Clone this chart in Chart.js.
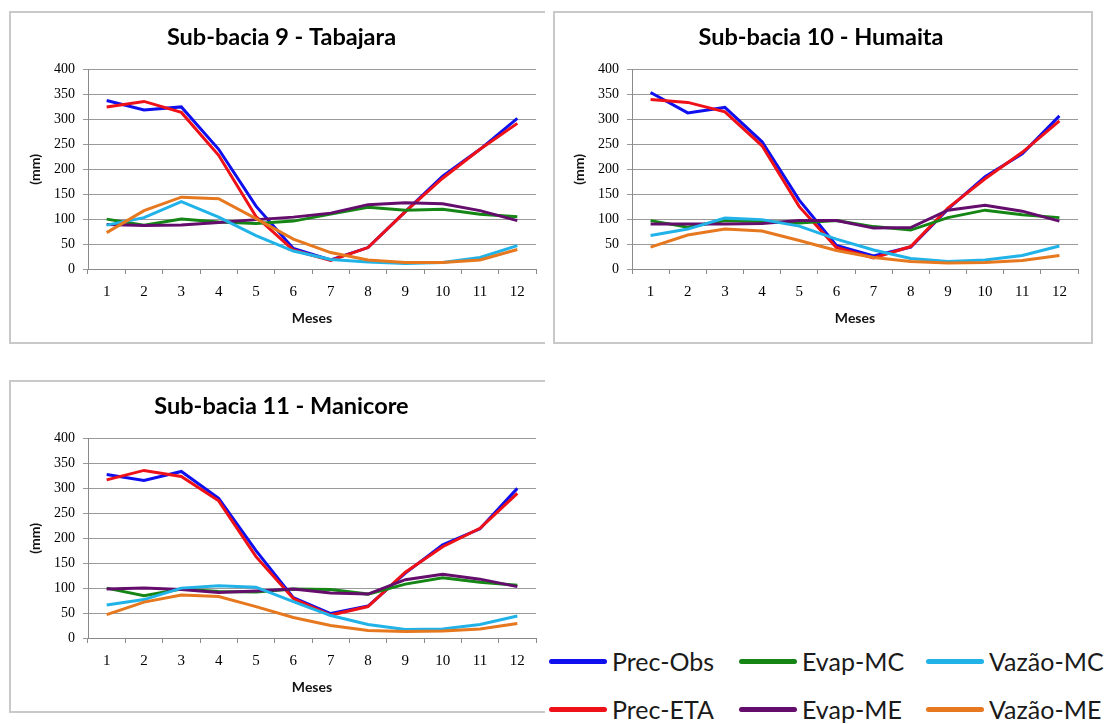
<!DOCTYPE html>
<html>
<head>
<meta charset="utf-8">
<title>Sub-bacias - precipitação, evapotranspiração e vazão</title>
<script src="https://cdn.jsdelivr.net/npm/chart.js@4.4.0/dist/chart.umd.min.js"></script>
<style>
  html, body { margin: 0; padding: 0; background: #fff; }
  body { width: 1108px; height: 724px; position: relative; overflow: hidden; font-family: Lato, "Open Sans", sans-serif; }
  .frame { position: absolute; box-sizing: border-box; border: 2px solid #c9c9c9; }
  .frame.cut { border-right: none; }
  canvas { position: absolute; }
  .leg { position: absolute; height: 30px; display: flex; align-items: center; white-space: nowrap;
         font-family: Lato, sans-serif; font-size: 25px; color: #1a1a1a; }
  .leg i { display: inline-block; width: 58px; height: 5px; border-radius: 3px; margin-right: 5px; }
</style>
</head>
<body>
<div class="frame cut" style="left:9px;top:11px;width:536px;height:333px"></div>
<div class="frame" style="left:553px;top:11px;width:540px;height:333px"></div>
<div class="frame cut" style="left:9px;top:380px;width:536px;height:333px"></div>
<canvas id="c9" width="534" height="333" style="left:9px;top:11px"></canvas>
<canvas id="c10" width="540" height="333" style="left:553px;top:11px"></canvas>
<canvas id="c11" width="534" height="333" style="left:9px;top:380px"></canvas>
<div id="legend"></div>

<script>
// Months on the horizontal axis
const months = ['1', '2', '3', '4', '5', '6', '7', '8', '9', '10', '11', '12'];
const yTicks = [0, 50, 100, 150, 200, 250, 300, 350, 400];

// Series names, in drawing order
const seriesNames = ['Prec-Obs', 'Prec-ETA', 'Evap-MC', 'Evap-ME', 'Vazão-MC', 'Vazão-ME'];

// Sub-bacia 9 - Tabajara (mm)
const precObs9 = [338, 319, 325, 240, 126, 41, 18, 43, 115, 186, 240, 302];
const precEta9 = [325, 336, 314, 228, 105, 38, 17, 43, 115, 182, 240, 292];
const evapMc9  = [100, 88, 100, 94, 91, 96, 110, 124, 118, 120, 110, 105];
const evapMe9  = [89, 87, 88, 93, 99, 104, 112, 129, 133, 131, 117, 97];
const vazaoMc9 = [88, 103, 135, 104, 67, 36, 19, 14, 11, 13, 23, 47];
const vazaoMe9 = [73, 117, 144, 141, 101, 60, 33, 18, 13, 13, 18, 39];

// Sub-bacia 10 - Humaita (mm)
const precObs10 = [354, 313, 324, 255, 138, 47, 26, 44, 120, 185, 231, 307];
const precEta10 = [340, 334, 315, 247, 125, 43, 22, 45, 122, 181, 234, 297];
const evapMc10  = [97, 84, 97, 95, 92, 97, 85, 78, 103, 118, 109, 103];
const evapMe10  = [90, 90, 90, 91, 97, 97, 82, 83, 118, 128, 116, 96];
const vazaoMc10 = [67, 80, 102, 99, 86, 60, 38, 21, 15, 18, 27, 46];
const vazaoMe10 = [44, 68, 80, 76, 57, 37, 23, 15, 12, 13, 17, 27];

// Sub-bacia 11 - Manicore (mm)
const precObs11 = [328, 316, 334, 280, 175, 81, 49, 64, 130, 187, 219, 300];
const precEta11 = [317, 336, 324, 275, 163, 79, 46, 63, 132, 183, 220, 290];
const evapMc11  = [100, 85, 98, 93, 92, 98, 97, 88, 108, 121, 112, 106];
const evapMe11  = [98, 100, 97, 91, 94, 98, 90, 88, 117, 128, 118, 103];
const vazaoMc11 = [66, 77, 100, 105, 102, 73, 45, 27, 17, 18, 27, 44];
const vazaoMe11 = [47, 72, 86, 83, 63, 41, 25, 15, 13, 14, 18, 29];

// Line colours per series
const seriesColors = ['#1010ee', '#ee1118', '#158615', '#640d6c', '#21b3e8', '#e6781f'];

// leftPad moves the centred title; the y-axis width keeps the plot edge fixed
function buildChart(id, title, series, leftPad, rightPad) {
  const datasets = series.map((values, i) => ({
    label: seriesNames[i],
    data: values,
    borderColor: seriesColors[i],
    backgroundColor: seriesColors[i],
    borderWidth: 3,
    pointRadius: 0,
    tension: 0,
    fill: false,
    order: series.length - i
  }));
  const axisFont = { family: 'Lato', size: 14, weight: 'bold', lineHeight: 1.2 };
  return new Chart(document.getElementById(id), {
    type: 'line',
    data: { labels: months, datasets },
    options: {
      responsive: false,
      animation: false,
      events: [],
      layout: { padding: { left: leftPad, right: rightPad, top: 0, bottom: 0 } },
      plugins: {
        legend: { display: false },
        tooltip: { enabled: false },
        title: {
          display: true,
          text: title,
          color: '#000',
          font: { family: 'Lato', size: 23.5, weight: 'bold', lineHeight: 1.2 },
          padding: { top: 11.9, bottom: 18.4 }
        }
      },
      scales: {
        x: {
          type: 'category',
          offset: true,
          grid: { display: true, offset: true, drawOnChartArea: false, drawTicks: true, tickLength: 5, color: '#8a8a8a', lineWidth: 1 },
          border: { display: true, color: '#8a8a8a', width: 1 },
          ticks: { color: '#000', font: { family: '"Liberation Serif"', size: 15 }, padding: 9, maxRotation: 0, autoSkip: false },
          title: { display: true, text: 'Meses', color: '#111', font: axisFont, padding: { top: 0, bottom: 17.6 } },
          afterFit(scale) { scale.height = 75; }
        },
        y: {
          min: 0,
          max: 400,
          afterBuildTicks(scale) { scale.ticks = yTicks.map(v => ({ value: v })); },
          grid: { color: '#9a9a9a', lineWidth: 1, tickLength: 5, drawTicks: true },
          border: { display: true, color: '#8a8a8a', width: 1 },
          ticks: { color: '#000', font: { family: '"Liberation Serif"', size: 14 }, padding: 8 },
          title: { display: true, text: '(mm)', color: '#111', font: axisFont, padding: { top: Math.max(0, 17.6 - leftPad), bottom: 0 } },
          afterFit(scale) { scale.width = 79 - leftPad; }
        }
      }
    }
  });
}

buildChart('c9', 'Sub-bacia 9 - Tabajara', [precObs9, precEta9, evapMc9, evapMe9, vazaoMc9, vazaoMe9], 18, 7);
buildChart('c10', 'Sub-bacia 10 - Humaita', [precObs10, precEta10, evapMc10, evapMe10, vazaoMc10, vazaoMe10], 11, 15);
buildChart('c11', 'Sub-bacia 11 - Manicore', [precObs11, precEta11, evapMc11, evapMe11, vazaoMc11, vazaoMe11], 18, 7);

// Shared legend: two rows, three columns
const legendCols = [549, 739, 926];
const legendRows = [661, 709];
const legend = document.getElementById('legend');
seriesNames.forEach((name, i) => {
  const item = document.createElement('div');
  item.className = 'leg';
  item.style.left = legendCols[Math.floor(i / 2)] + 'px';
  item.style.top = (legendRows[i % 2] - 15) + 'px';
  const swatch = document.createElement('i');
  swatch.style.background = seriesColors[i];
  item.appendChild(swatch);
  item.appendChild(document.createTextNode(name));
  legend.appendChild(item);
});
</script>
</body>
</html>
